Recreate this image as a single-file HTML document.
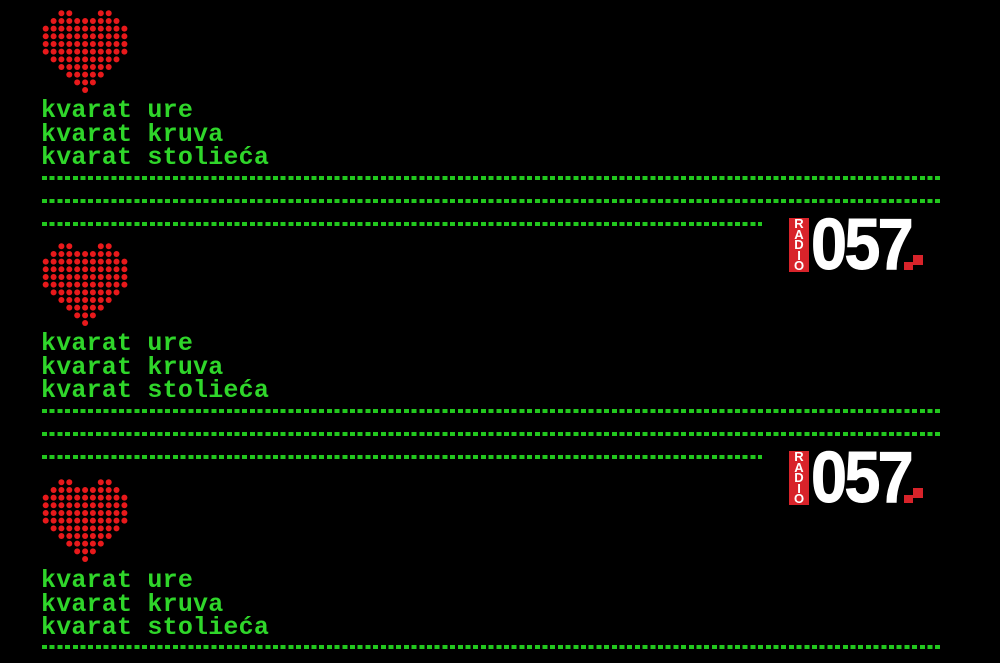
<!DOCTYPE html>
<html><head><meta charset="utf-8"><style>
html,body{margin:0;padding:0;background:#000;width:1000px;height:663px;overflow:hidden;position:relative}
.t{position:absolute;left:41px;color:#2fd62a;font-family:"Liberation Mono",monospace;font-weight:bold;font-size:25px;line-height:23.5px;letter-spacing:0.2px;white-space:pre}
.d{position:absolute;left:42px;height:4px;background:repeating-linear-gradient(90deg,#22c81e 0 5px,transparent 5px 7.7px)}
.logo{position:absolute;left:789px;width:140px;height:56px}
.rb{position:absolute;left:0;top:0;width:20px;height:54px;background:#d8232a}
.rt{position:absolute;left:0;top:1px;width:20px;height:54px;color:#fff;font:bold 13px/10.6px "Liberation Sans",sans-serif;text-align:center}
.n{position:absolute;left:22px;top:-13px;color:#fff;font:bold 72px/80px "Liberation Sans",sans-serif;transform:scaleX(0.9);transform-origin:0 0;letter-spacing:-3px;-webkit-text-stroke:1px #fff}
.sq{position:absolute;background:#d8232a}
</style></head><body>
<svg width="1000" height="663" style="position:absolute;left:0;top:0">
<defs><g id="h" fill="#e8191b">
<circle cx="61.4" cy="13.3" r="3"/><circle cx="69.3" cy="13.3" r="3"/><circle cx="100.8" cy="13.3" r="3"/><circle cx="108.7" cy="13.3" r="3"/>
<g transform="translate(0,7.67)"><circle cx="53.6" cy="13.3" r="3"/><circle cx="61.4" cy="13.3" r="3"/><circle cx="69.3" cy="13.3" r="3"/><circle cx="77.2" cy="13.3" r="3"/><circle cx="85.1" cy="13.3" r="3"/><circle cx="92.9" cy="13.3" r="3"/><circle cx="100.8" cy="13.3" r="3"/><circle cx="108.7" cy="13.3" r="3"/><circle cx="116.5" cy="13.3" r="3"/></g>
<g id="full" transform="translate(0,15.34)"><circle cx="45.7" cy="13.3" r="3"/><circle cx="53.6" cy="13.3" r="3"/><circle cx="61.4" cy="13.3" r="3"/><circle cx="69.3" cy="13.3" r="3"/><circle cx="77.2" cy="13.3" r="3"/><circle cx="85.1" cy="13.3" r="3"/><circle cx="92.9" cy="13.3" r="3"/><circle cx="100.8" cy="13.3" r="3"/><circle cx="108.7" cy="13.3" r="3"/><circle cx="116.5" cy="13.3" r="3"/><circle cx="124.4" cy="13.3" r="3"/></g>
<use href="#full" y="7.67"/><use href="#full" y="15.34"/><use href="#full" y="23.01"/>
<g transform="translate(0,46.02)"><circle cx="53.6" cy="13.3" r="3"/><circle cx="61.4" cy="13.3" r="3"/><circle cx="69.3" cy="13.3" r="3"/><circle cx="77.2" cy="13.3" r="3"/><circle cx="85.1" cy="13.3" r="3"/><circle cx="92.9" cy="13.3" r="3"/><circle cx="100.8" cy="13.3" r="3"/><circle cx="108.7" cy="13.3" r="3"/><circle cx="116.5" cy="13.3" r="3"/></g>
<g transform="translate(0,53.69)"><circle cx="61.4" cy="13.3" r="3"/><circle cx="69.3" cy="13.3" r="3"/><circle cx="77.2" cy="13.3" r="3"/><circle cx="85.1" cy="13.3" r="3"/><circle cx="92.9" cy="13.3" r="3"/><circle cx="100.8" cy="13.3" r="3"/><circle cx="108.7" cy="13.3" r="3"/></g>
<g transform="translate(0,61.36)"><circle cx="69.3" cy="13.3" r="3"/><circle cx="77.2" cy="13.3" r="3"/><circle cx="85.1" cy="13.3" r="3"/><circle cx="92.9" cy="13.3" r="3"/><circle cx="100.8" cy="13.3" r="3"/></g>
<g transform="translate(0,69.03)"><circle cx="77.2" cy="13.3" r="3"/><circle cx="85.1" cy="13.3" r="3"/><circle cx="92.9" cy="13.3" r="3"/></g>
<circle cx="85.1" cy="90" r="3"/>
</g></defs>
<use href="#h"/><use href="#h" y="233"/><use href="#h" y="469"/>
</svg>

<div class="t" style="top:99px">kvarat ure
kvarat kruva
kvarat stolieća</div>
<div class="d" style="top:176px;width:900px"></div>
<div class="d" style="top:199px;width:900px"></div>
<div class="d" style="top:222px;width:720px"></div>
<div class="logo" style="top:218px"><div class="rb"></div><div class="rt">R<br>A<br>D<br>I<br>O</div><div class="n">057</div>
<div class="sq" style="left:124px;top:37px;width:10px;height:10px"></div>
<div class="sq" style="left:115px;top:44px;width:9px;height:8px"></div></div>

<div class="t" style="top:332px">kvarat ure
kvarat kruva
kvarat stolieća</div>
<div class="d" style="top:409px;width:900px"></div>
<div class="d" style="top:432px;width:900px"></div>
<div class="d" style="top:455px;width:720px"></div>
<div class="logo" style="top:451px"><div class="rb"></div><div class="rt">R<br>A<br>D<br>I<br>O</div><div class="n">057</div>
<div class="sq" style="left:124px;top:37px;width:10px;height:10px"></div>
<div class="sq" style="left:115px;top:44px;width:9px;height:8px"></div></div>

<div class="t" style="top:569px">kvarat ure
kvarat kruva
kvarat stolieća</div>
<div class="d" style="top:645px;width:900px"></div>
</body></html>
